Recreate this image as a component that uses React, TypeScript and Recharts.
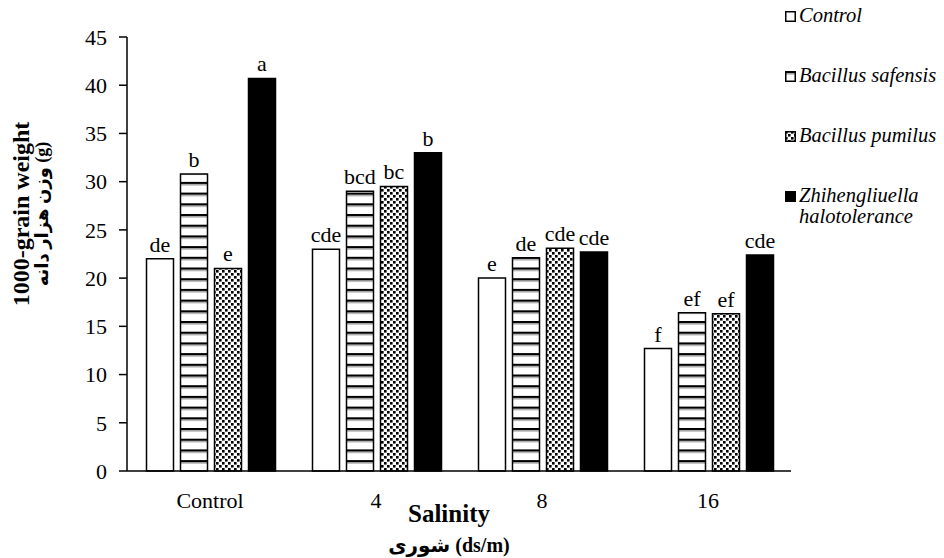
import React from 'react';
import { BarChart, Bar, XAxis, YAxis, LabelList, Legend, Label } from 'recharts';

const categories = ['Control', '4', '8', '16'];
const controlValues = [22.0, 23.0, 20.0, 12.7];
const safensisValues = [30.8, 29.0, 22.1, 16.4];
const pumilusValues = [21.0, 29.5, 23.1, 16.3];
const zhihengValues = [40.7, 33.0, 22.7, 22.4];
const controlLetters = ['de', 'cde', 'e', 'f'];
const safensisLetters = ['b', 'bcd', 'de', 'ef'];
const pumilusLetters = ['e', 'bc', 'cde', 'ef'];
const zhihengLetters = ['a', 'b', 'cde', 'cde'];
const yTicks = [0, 5, 10, 15, 20, 25, 30, 35, 40, 45];
const seriesNames = ['Control', 'Bacillus safensis', 'Bacillus pumilus', 'Zhihengliuella halotolerance'];
const seriesKeys = ['control', 'safensis', 'pumilus', 'zhiheng'];
const seriesFills = ['#ffffff', 'url(#stripes)', 'url(#checker)', '#000000'];

const data = categories.map((c, i) => ({
  category: c,
  control: controlValues[i],
  safensis: safensisValues[i],
  pumilus: pumilusValues[i],
  zhiheng: zhihengValues[i],
  controlL: controlLetters[i],
  safensisL: safensisLetters[i],
  pumilusL: pumilusLetters[i],
  zhihengL: zhihengLetters[i],
}));

const SERIF = '"Liberation Serif", "Times New Roman", "DejaVu Serif", serif';
const BOLD_MIX = '"Liberation Serif", "DejaVu Sans", serif';

const YTitle = (props: any) => {
  const vb = props.viewBox || { x: 67, y: 37, width: 60, height: 434 };
  const cy = vb.y + vb.height / 2 - 40;
  const x1 = vb.x - 38;
  const x2 = vb.x - 19;
  return (
    <g>
      <text transform={`translate(${x1}, ${cy}) rotate(-90)`} textAnchor="middle" fontFamily={SERIF} fontWeight="bold" fontSize={24} fill="#000">
        1000-grain weight
      </text>
      <text transform={`translate(${x2}, ${cy}) rotate(-90)`} textAnchor="middle" fontFamily={BOLD_MIX} fontWeight="bold" fontSize={18} fill="#000">
        وزن هزار دانه (g)
      </text>
    </g>
  );
};

const XTitle = (props: any) => {
  const vb = props.viewBox || { x: 127, y: 471, width: 664, height: 30 };
  const cx = vb.x + vb.width / 2 - 10;
  return (
    <g>
      <text x={cx} y={vb.y + 51} textAnchor="middle" fontFamily={SERIF} fontWeight="bold" fontSize={25} fill="#000">
        Salinity
      </text>
      <text x={cx} y={vb.y + 81} textAnchor="middle" fontFamily={BOLD_MIX} fontWeight="bold" fontSize={20} fill="#000">
        شوری (ds/m)
      </text>
    </g>
  );
};

const LegendSwatch = ({ idx }: { idx: number }) => (
  <svg width={11} height={11} style={{ flex: 'none', marginTop: 6 }}>
    <rect x={0.75} y={0.75} width={9.5} height={9.5} fill={seriesFills[idx]} stroke="#000" strokeWidth={1.5} />
  </svg>
);

const LegendContent = () => (
  <div style={{ fontFamily: SERIF, fontStyle: 'italic', fontSize: 20.5, color: '#000', lineHeight: '21px', textAlign: 'left' }}>
    {seriesNames.map((n, i) => (
      <div key={n} style={{ display: 'flex', alignItems: 'flex-start', height: 60 }}>
        <LegendSwatch idx={i} />
        <div style={{ marginLeft: 3, width: 142, whiteSpace: i === 3 ? 'normal' : 'nowrap' }}>{n}</div>
      </div>
    ))}
  </div>
);

export default function App() {
  return (
    <div style={{ position: 'absolute', left: 0, top: 0, width: 944, height: 558, background: '#fff' }}>
      <svg width={0} height={0} style={{ position: 'absolute' }}>
        <defs>
          <pattern id="stripes" patternUnits="userSpaceOnUse" width={10} height={10.7}>
            <rect x={0} y={0} width={10} height={10.7} fill="#fff" />
            <rect x={0} y={0} width={10} height={2.2} fill="#000" />
            <rect x={0} y={2.2} width={10} height={1.3} fill="#999" />
          </pattern>
          <pattern id="checker" patternUnits="userSpaceOnUse" width={6} height={6}>
            <rect x={0} y={0} width={6} height={6} fill="#fff" />
            <rect x={0} y={0} width={2.6} height={2.6} fill="#000" />
            <rect x={3} y={3} width={2.6} height={2.6} fill="#000" />
          </pattern>
        </defs>
      </svg>
      <BarChart
        width={944}
        height={558}
        data={data}
        margin={{ top: 37, right: 153, bottom: 57, left: 67 }}
        barCategoryGap={19.5}
        barGap={7}
      >
        <XAxis
          dataKey="category"
          height={30}
          tickLine={false}
          tickSize={0}
          tickMargin={21}
          axisLine={{ stroke: '#000', strokeWidth: 1.5 }}
          tick={{ fill: '#000', fontSize: 22, fontFamily: SERIF }}
        >
          <Label content={XTitle} />
        </XAxis>
        <YAxis
          width={60}
          domain={[0, 45]}
          ticks={yTicks}
          interval={0}
          tickSize={8}
          tickMargin={12}
          axisLine={{ stroke: '#000', strokeWidth: 1.5 }}
          tickLine={{ stroke: '#000', strokeWidth: 1.5 }}
          tick={{ fill: '#000', fontSize: 22, fontFamily: SERIF }}
        >
          <Label content={YTitle} />
        </YAxis>
        <Legend
          layout="horizontal"
          verticalAlign="middle"
          align="center"
          content={LegendContent}
          wrapperStyle={{ left: 785, top: 5, right: 'auto', bottom: 'auto', width: 160, height: 240 }}
        />
        {seriesKeys.map((k, i) => (
          <Bar key={k} dataKey={k} name={seriesNames[i]} fill={seriesFills[i]} stroke="#000" strokeWidth={1.5} isAnimationActive={false}>
            <LabelList dataKey={`${k}L`} position="top" offset={7} fill="#000" fontSize={22} fontFamily={SERIF} />
          </Bar>
        ))}
      </BarChart>
    </div>
  );
}
